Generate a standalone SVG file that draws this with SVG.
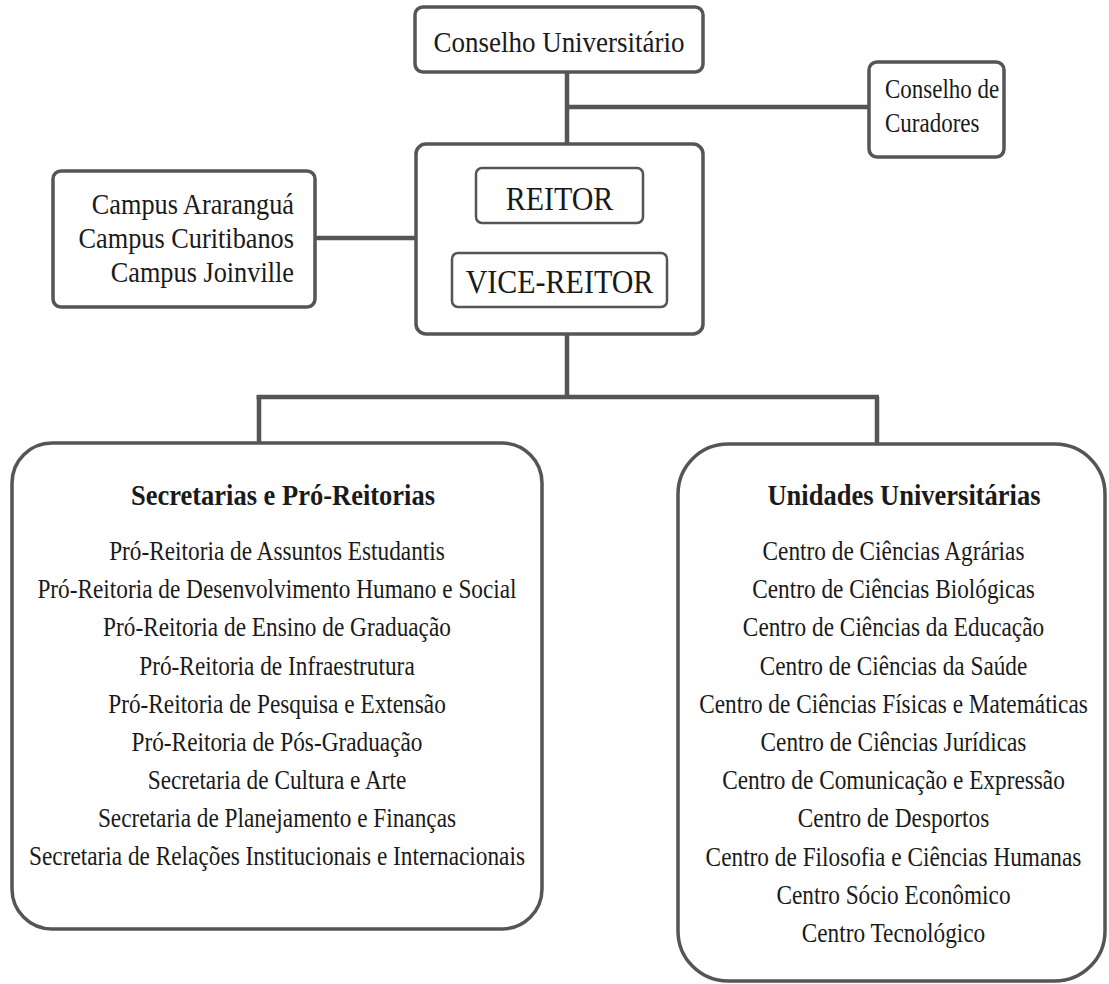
<svg xmlns="http://www.w3.org/2000/svg" width="1109" height="984" viewBox="0 0 1109 984">
<style>
.box{fill:#fff;stroke:#555;stroke-width:3.5}
.inner{fill:#fff;stroke:#555;stroke-width:2.5}
.conn{fill:none;stroke:#555;stroke-width:4.5;stroke-linecap:butt}
.t{font-family:"Liberation Serif","Times New Roman",serif;fill:#1a1a1a}
.c{text-anchor:middle}
.r{text-anchor:end}
.s27{font-size:27px}
.s26{font-size:26.3px}
.s23c{font-size:23px}
.s30{font-size:30px}
.s23{font-size:23.3px}
.b{font-weight:bold;font-size:26.5px}
</style>
<rect width="1109" height="984" fill="#fff"/>
<g id="connectors">
<path class="conn" d="M567,72 V144"/>
<path class="conn" d="M567,107 H869"/>
<path class="conn" d="M315,238 H416"/>
<path class="conn" d="M567,334 V397"/>
<path class="conn" d="M256.5,397 H879"/>
<path class="conn" d="M259,397 V443"/>
<path class="conn" d="M877,397 V444"/>
</g>
<g id="conselho-universitario">
<rect class="box" x="415" y="7" width="288" height="65" rx="8"/>
<text class="t c s27" x="559" y="0" transform="translate(0,52) scale(1,1.1)">Conselho Universitário</text>
</g>
<g id="conselho-curadores">
<rect class="box" x="869" y="62" width="135" height="95" rx="8"/>
<text class="t s23c" x="885" y="0" transform="translate(0,98) scale(1,1.2)">Conselho de</text>
<text class="t s23c" x="885" y="0" transform="translate(0,132) scale(1,1.2)">Curadores</text>
</g>
<g id="campus">
<rect class="box" x="53" y="171" width="262" height="136" rx="8"/>
<text class="t r s26" x="294" y="0" transform="translate(0,214) scale(1,1.12)">Campus Araranguá</text>
<text class="t r s26" x="294" y="0" transform="translate(0,248) scale(1,1.12)">Campus Curitibanos</text>
<text class="t r s26" x="294" y="0" transform="translate(0,282) scale(1,1.12)">Campus Joinville</text>
</g>
<g id="reitoria">
<rect class="box" x="416" y="144" width="287" height="190" rx="10"/>
<g id="reitor">
<rect class="inner" x="476" y="168" width="167" height="55" rx="6"/>
<text class="t c s30" x="559.5" y="0" transform="translate(0,210) scale(1,1.15)">REITOR</text>
</g>
<g id="vice-reitor">
<rect class="inner" x="452" y="253" width="215" height="54" rx="6"/>
<text class="t c s30" x="559.5" y="0" transform="translate(0,293) scale(1,1.15)">VICE-REITOR</text>
</g>
</g>
<g id="secretarias">
<rect class="box" x="12" y="443" width="530" height="486" rx="40"/>
<text class="t c b" x="283" y="0" transform="translate(0,505) scale(1,1.15)">Secretarias e Pró-Reitorias</text>
<text class="t c s23" x="277" y="0" transform="translate(0,560) scale(1,1.15)">Pró-Reitoria de Assuntos Estudantis</text>
<text class="t c s23" x="277" y="0" transform="translate(0,598) scale(1,1.15)">Pró-Reitoria de Desenvolvimento Humano e Social</text>
<text class="t c s23" x="277" y="0" transform="translate(0,636) scale(1,1.15)">Pró-Reitoria de Ensino de Graduação</text>
<text class="t c s23" x="277" y="0" transform="translate(0,675) scale(1,1.15)">Pró-Reitoria de Infraestrutura</text>
<text class="t c s23" x="277" y="0" transform="translate(0,713) scale(1,1.15)">Pró-Reitoria de Pesquisa e Extensão</text>
<text class="t c s23" x="277" y="0" transform="translate(0,751) scale(1,1.15)">Pró-Reitoria de Pós-Graduação</text>
<text class="t c s23" x="277" y="0" transform="translate(0,789) scale(1,1.15)">Secretaria de Cultura e Arte</text>
<text class="t c s23" x="277" y="0" transform="translate(0,827) scale(1,1.15)">Secretaria de Planejamento e Finanças</text>
<text class="t c s23" x="277" y="0" transform="translate(0,865) scale(1,1.15)">Secretaria de Relações Institucionais e Internacionais</text>
</g>
<g id="unidades">
<rect class="box" x="678" y="444" width="427" height="537" rx="50"/>
<text class="t c b" x="904" y="0" transform="translate(0,505) scale(1,1.15)">Unidades Universitárias</text>
<text class="t c s23" x="893.5" y="0" transform="translate(0,560) scale(1,1.15)">Centro de Ciências Agrárias</text>
<text class="t c s23" x="893.5" y="0" transform="translate(0,598) scale(1,1.15)">Centro de Ciências Biológicas</text>
<text class="t c s23" x="893.5" y="0" transform="translate(0,636) scale(1,1.15)">Centro de Ciências da Educação</text>
<text class="t c s23" x="893.5" y="0" transform="translate(0,675) scale(1,1.15)">Centro de Ciências da Saúde</text>
<text class="t c s23" x="893.5" y="0" transform="translate(0,713) scale(1,1.15)">Centro de Ciências Físicas e Matemáticas</text>
<text class="t c s23" x="893.5" y="0" transform="translate(0,751) scale(1,1.15)">Centro de Ciências Jurídicas</text>
<text class="t c s23" x="893.5" y="0" transform="translate(0,789) scale(1,1.15)">Centro de Comunicação e Expressão</text>
<text class="t c s23" x="893.5" y="0" transform="translate(0,827) scale(1,1.15)">Centro de Desportos</text>
<text class="t c s23" x="893.5" y="0" transform="translate(0,866) scale(1,1.15)">Centro de Filosofia e Ciências Humanas</text>
<text class="t c s23" x="893.5" y="0" transform="translate(0,904) scale(1,1.15)">Centro Sócio Econômico</text>
<text class="t c s23" x="893.5" y="0" transform="translate(0,942) scale(1,1.15)">Centro Tecnológico</text>
</g>
</svg>
